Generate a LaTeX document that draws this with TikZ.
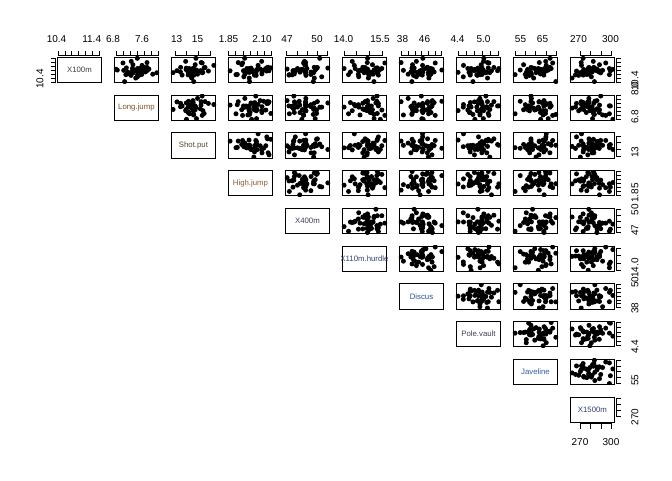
\documentclass[tikz,border=0pt]{standalone}
\usepackage{fontspec}
\setmainfont{Liberation Sans}
\usetikzlibrary{positioning}

\definecolor{nmHundred}{RGB}{60,60,70}
\definecolor{nmLong}{RGB}{120,80,40}
\definecolor{nmShot}{RGB}{90,70,50}
\definecolor{nmHigh}{RGB}{140,90,50}
\definecolor{nmFourHundred}{RGB}{60,60,80}
\definecolor{nmHurdle}{RGB}{50,70,110}
\definecolor{nmDiscus}{RGB}{40,80,150}
\definecolor{nmPole}{RGB}{70,60,80}
\definecolor{nmJavelin}{RGB}{50,90,160}
\definecolor{nmFifteen}{RGB}{50,60,110}

\tikzset{
  panel/.style={draw, line width=0.9pt, minimum width=44.3pt,
    minimum height=25.3pt, inner sep=0pt},
  varname/.style={font=\fontsize{7.8}{9}\selectfont, inner sep=0pt},
  ticklab/.style={font=\fontsize{10}{12}\selectfont, inner sep=0pt},
  axisline/.style={line width=0.8pt}
}

\begin{document}
\begin{tikzpicture}[x=1pt, y=-1pt]
\useasboundingbox (0,0) rectangle (672,480);

% simulated scores, one per athlete and event
\pgfmathsetseed{4117}
\foreach \v in {1,...,10}{
  \foreach \a in {1,...,41}{
    \pgfmathsetmacro\tmp{0.04+0.92*(0.55*rnd+0.45*rnd)}
    \expandafter\xdef\csname sc\v-\a\endcsname{\tmp}
  }
  \pgfmathtruncatemacro\lo{mod(3*\v,41)+1}
  \pgfmathtruncatemacro\hi{mod(3*\v+17,41)+1}
  \expandafter\xdef\csname sc\v-\lo\endcsname{0.04}
  \expandafter\xdef\csname sc\v-\hi\endcsname{0.96}
}

% diagonal: event names
\foreach \r/\nm/\cl in {1/X100m/nmHundred, 2/Long.jump/nmLong,
  3/Shot.put/nmShot, 4/High.jump/nmHigh, 5/X400m/nmFourHundred,
  6/X110m.hurdle/nmHurdle, 7/Discus/nmDiscus, 8/Pole.vault/nmPole,
  9/Javeline/nmJavelin, 10/X1500m/nmFifteen}{
  \pgfmathsetmacro\cx{57.3+57*(\r-1)+22.15}
  \pgfmathsetmacro\cy{57.3+37.74*(\r-1)+12.65}
  \node (d\r) [panel] at (\cx,\cy) {};
  \begin{scope}
    \clip (d\r.south west) rectangle (d\r.north east);
    \node (t\r) [varname, text=\cl] at (d\r) {\nm};
  \end{scope}
}

% upper panels: scatter of column event against row event
\foreach \r in {1,...,9}{
  \pgfmathtruncatemacro\cs{\r+1}
  \foreach \c in {\cs,...,10}{
    \pgfmathsetmacro\lx{57.3+57*(\c-1)}
    \pgfmathsetmacro\ty{57.3+37.74*(\r-1)}
    \node (p\r-\c) [panel] at (\lx+22.15,\ty+12.65) {};
    \begin{scope}
      \clip (p\r-\c.south west) rectangle (p\r-\c.north east);
      \foreach \a in {1,...,41}{
        \edef\xv{\csname sc\c-\a\endcsname}
        \edef\yv{\csname sc\r-\a\endcsname}
        \fill (\lx+44.3*\xv, \ty+25.3-25.3*\yv) circle[radius=2.5pt];
      }
    \end{scope}
  }
}

% axes: first tick offset / spacing / number of ticks per event
\foreach \c/\s/\d/\n in {1/1/6.78/7, 2/1.7/7.05/7, 3/3.7/11.7/4,
  4/0.3/7.2/7, 5/1.4/10.2/5, 6/1.7/12.8/4, 7/2.4/6.67/7, 8/2/8/6,
  9/1.7/10.3/5, 10/9.7/10.5/4}{
  \pgfmathsetmacro\lx{57.3+57*(\c-1)}
  \pgfmathsetmacro\by{57.3+37.74*(\c-1)+25.3}
  % top
  \coordinate (ta\c) at (\lx+\s,55.8);
  \coordinate (tb\c) at (\lx+\s+\n*\d-\d,55.8);
  \draw[axisline] (ta\c) -- (tb\c);
  \foreach \k in {1,...,\n}
    \draw[axisline] (\lx+\s+\k*\d-\d,55.8) -- ++(0,-5);
  % right
  \coordinate (ra\c) at (616.1,\by-0.5711*\s);
  \coordinate (rb\c) at (616.1,\by-0.5711*\s-0.5711*\n*\d+0.5711*\d);
  \draw[axisline] (ra\c) -- (rb\c);
  \foreach \k in {1,...,\n}
    \draw[axisline] (616.1,\by-0.5711*\s-0.5711*\k*\d+0.5711*\d) -- ++(5,0);
}
% left axis of the first row
\coordinate (la) at (55.8,82.6-0.5711);
\coordinate (lb) at (55.8,82.6-0.5711-0.5711*6*6.78);
\draw[axisline] (la) -- (lb);
\foreach \k in {0,...,6}
  \draw[axisline] (55.8,82.6-0.5711-0.5711*\k*6.78) -- ++(-5,0);
% bottom axis of the last column
\coordinate (ba) at (580,423.8);
\coordinate (bb) at (611.5,423.8);
\draw[axisline] (ba) -- (bb);
\foreach \k in {0,...,3}
  \draw[axisline] (580+\k*10.5,423.8) -- ++(0,5);

% tick labels
\foreach \x/\t [count=\i] in {56.5/10.4, 91.7/11.4, 113/6.8, 142/7.6,
  176.7/13, 197.5/15, 228.5/1.85, 262/2.10, 287/47, 317/50, 343.5/14.0,
  380/15.5, 402.5/38, 424.5/46, 457.5/4.4, 483.5/5.0, 520.5/55,
  542.5/65, 578.5/270, 610.5/300}
  \node (tl\i) [ticklab] at (\x,39) {\t};
\foreach \y/\t [count=\i] in {81/10.4, 89/8.0, 117/6.8, 152/13, 193/1.85,
  209.5/50, 230/47, 268/14.0, 282/50, 308/38, 347/4.4, 380/55, 417/270}
  \node (rl\i) [ticklab, rotate=90] at (635,\y) {\t};
\node (ll1) [ticklab, rotate=90] at (40,79) {10.4};
\node (bl1) [ticklab] at (580,442) {270};
\node (bl2) [ticklab] at (611,442) {300};
\end{tikzpicture}
\end{document}
